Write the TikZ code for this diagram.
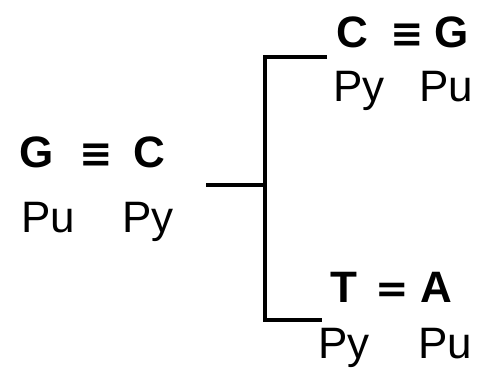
\documentclass[tikz,border=0pt]{standalone}
\usepackage{fontspec}
\setmainfont{Liberation Sans}
\newfontfamily\symfnt{DejaVu Sans}
\usetikzlibrary{positioning}

\tikzset{
  base/.style={font=\fontsize{44}{48}\selectfont\bfseries, inner sep=0pt, anchor=base west},
  kind/.style={font=\fontsize{44}{48}\selectfont, inner sep=0pt, anchor=base west},
  bond/.style={font=\fontsize{40}{44}\selectfont\symfnt\bfseries, inner sep=0pt, anchor=base west},
  branch/.style={line width=4pt, line cap=butt}
}

\begin{document}
\begin{tikzpicture}[x=1pt, y=-1pt]
    \useasboundingbox (0,0) rectangle (479,372);

    % parent pair
    \node[base] (lg) at (19,167) {G};
    \node[bond] (ltri) at (79,167) {≡};
    \node[base] (lc) at (133,167) {C};
    \node[kind] (lpu) at (21,232) {Pu};
    \node[kind] (lpy) at (122,232) {Py};

    % upper daughter
    \node[base] (tc) at (336,47) {C};
    \node[bond] (ttri) at (390,47) {≡};
    \node[base] (tg) at (434,47) {G};
    \node[kind] (tpy) at (333,101) {Py};
    \node[kind] (tpu) at (419,101) {Pu};

    % lower daughter
    \node[base] (bt) at (330,302) {T};
    \node[bond] (beq) at (375,302) {=};
    \node[base] (ba) at (420,302) {A};
    \node[kind] (bpy) at (318,358) {Py};
    \node[kind] (bpu) at (418,358) {Pu};

    % fork
    \coordinate (stub) at (206,185);
    \coordinate (fork) at (265,185);
    \coordinate (topcorner) at (265,57);
    \coordinate (topend) at (327,57);
    \coordinate (botcorner) at (265,320);
    \coordinate (botend) at (322,320);

    \draw[branch] (stub) -- (fork);
    \draw[branch] (topend) -- (topcorner) -- (botcorner) -- (botend);
\end{tikzpicture}
\end{document}
